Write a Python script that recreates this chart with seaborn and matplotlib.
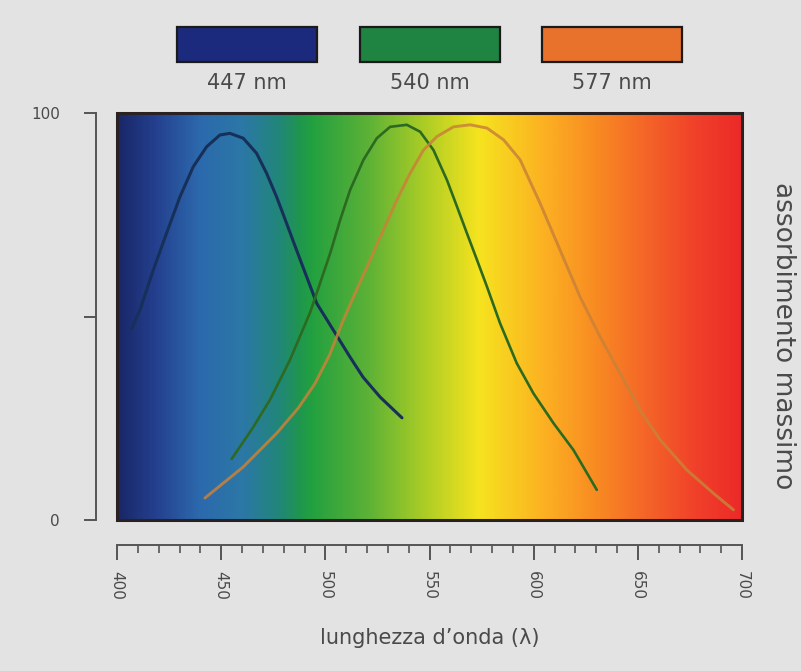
import numpy as np
import pandas as pd
import matplotlib
matplotlib.use("Agg")
import matplotlib.pyplot as plt
from matplotlib.colors import LinearSegmentedColormap
from matplotlib.patches import Rectangle
from matplotlib.ticker import MultipleLocator
import seaborn as sns

# ---------------- data ----------------
peak_labels = ["447 nm", "540 nm", "577 nm"]
series_colors = ["#1b2a7c", "#1f8442", "#e8722c"]
line_colors = ["#17305a", "#2c6a22", "#c98238"]

blue_wl = [407, 411, 417.4, 423.8, 430.2, 436.6, 443, 449.4, 454.2, 460.6, 467, 471.8,
           476.6, 481.4, 486.2, 491, 495.9, 501, 505.6, 511.9, 518.1, 526.3, 536.8]
blue_val = [47, 51.6, 61.4, 70.5, 79.4, 86.8, 91.7, 94.6, 95, 93.8, 90.1, 85.2,
            79.4, 72.9, 66.3, 59.8, 53.2, 49, 45.2, 40, 35.1, 30.2, 25.1]

green_wl = [455, 459, 465, 473.4, 483, 492.7, 502.3, 507.1, 511.9, 518.3, 524.7, 531.1,
            539.1, 545.5, 551.9, 558.4, 563.2, 568, 572.8, 577.6, 583.9, 591.9,
            599.9, 609.5, 619.1, 630.3]
green_val = [15, 18, 22.5, 29.5, 39.3, 51, 65.5, 73.7, 81.1, 88.5, 93.8, 96.6,
             97.1, 95.4, 90.9, 83.5, 77, 70.4, 63.9, 57.3, 48.3, 38.5,
             31.1, 23.8, 17.2, 7.4]

orange_wl = [442.2, 460.5, 476.8, 487, 495, 502, 508.6, 515, 521.5, 527.9, 534.3, 540.7,
             547.1, 553.5, 561.5, 569.5, 577.6, 585.6, 593.5, 603.1, 612.7, 622.3,
             631.9, 641.5, 651.1, 660.7, 673.5, 686.2, 695.9]
orange_val = [5.4, 13, 21.4, 27.5, 33.5, 40.5, 49.1, 56.5, 63.9, 71.3, 78.6, 85.2,
              90.9, 94.2, 96.6, 97.1, 96.3, 93.4, 88.5, 77.8, 66.3, 54.8,
              45, 36, 27, 19.7, 12.3, 6.6, 2.5]

x_ticks = [400, 450, 500, 550, 600, 650, 700]
y_ticks = [0, 50, 100]
y_ticklabels = ["0", "", "100"]

spectrum_stops = [0.0, 0.06, 0.13, 0.2, 0.26, 0.29, 0.31, 0.4, 0.5, 0.58,
                  0.68, 0.77, 0.85, 0.93, 1.0]
spectrum_colors = ["#1a2768", "#24408f", "#2c69ad", "#2b78a6", "#218777", "#1f9550",
                   "#22a040", "#5bb136", "#b3cf24", "#f6e31f", "#fcb322", "#f88a22",
                   "#f46428", "#f0402a", "#ec2a28"]

# ---------------- style ----------------
sns.set_style("white")
plt.rcParams["font.family"] = ["DejaVu Sans"]
bg = "#e3e3e3"
txt = "#4a4a4a"

fig = plt.figure(figsize=(8.01, 6.71), dpi=100, facecolor=bg)
ax = fig.add_axes([117 / 801, 1 - 520 / 671, 625 / 801, 407 / 671])
ax.set_facecolor(bg)

cmap = LinearSegmentedColormap.from_list("spec", list(zip(spectrum_stops, spectrum_colors)))
grad = np.linspace(0, 1, 600).reshape(1, -1)
ax.imshow(grad, cmap=cmap, aspect="auto", extent=[400, 700, 0, 100], zorder=0,
          interpolation="bilinear")

df = pd.concat([
    pd.DataFrame({"wl": blue_wl, "val": blue_val, "s": peak_labels[0]}),
    pd.DataFrame({"wl": green_wl, "val": green_val, "s": peak_labels[1]}),
    pd.DataFrame({"wl": orange_wl, "val": orange_val, "s": peak_labels[2]}),
])
sns.lineplot(data=df[df.s == peak_labels[0]], x="wl", y="val", color=line_colors[0],
             lw=2.2, ax=ax, sort=False, legend=False, zorder=3)
sns.lineplot(data=df[df.s == peak_labels[1]], x="wl", y="val", color=line_colors[1],
             lw=1.9, ax=ax, sort=False, legend=False, zorder=3)
sns.lineplot(data=df[df.s == peak_labels[2]], x="wl", y="val", color=line_colors[2],
             lw=2.1, alpha=0.85, ax=ax, sort=False, legend=False, zorder=4)

ax.set_xlim(400, 700)
ax.set_ylim(0, 100)

ax.add_patch(Rectangle((0, 0), 1, 1, transform=ax.transAxes, fill=False,
                       ec="#2a2222", lw=2.2, zorder=5, clip_on=False))

for s in ["top", "right"]:
    ax.spines[s].set_visible(False)
ax.spines["left"].set_position(("outward", 15))
ax.spines["bottom"].set_position(("outward", 18))
for s in ["left", "bottom"]:
    ax.spines[s].set_color("#555555")
    ax.spines[s].set_linewidth(1.4)

ax.set_xticks(x_ticks)
ax.set_xticklabels([str(v) for v in x_ticks], rotation=-90)
ax.xaxis.set_minor_locator(MultipleLocator(10))
ax.set_yticks(y_ticks)
ax.set_yticklabels(y_ticklabels)
ax.tick_params(which="both", bottom=True, left=True, top=False, right=False)
ax.tick_params(axis="x", which="major", direction="out", length=11, width=1.4,
               color="#555555", labelsize=11, labelcolor=txt, pad=8)
ax.tick_params(axis="x", which="minor", direction="out", length=6, width=1.2,
               color="#555555")
ax.tick_params(axis="y", which="major", direction="out", length=9, width=1.4,
               color="#555555", labelsize=11, labelcolor=txt, pad=17)
ax.set_xlabel("lunghezza d’onda (λ)", fontsize=15, color=txt, labelpad=20)
ax.set_ylabel("")
ax.grid(False)

fig.text(0.978, 1 - 336 / 671, "assorbimento massimo", rotation=-90, ha="center",
         va="center", fontsize=19, color=txt)

# legend boxes at the top
box_x = [177, 360, 542]
for bx, c, lab in zip(box_x, series_colors, peak_labels):
    fig.add_artist(Rectangle((bx / 801, 1 - 62 / 671), 140 / 801, 35 / 671,
                             transform=fig.transFigure, fc=c, ec="#1a1a1a", lw=1.6))
    fig.text((bx + 70) / 801, 1 - 83 / 671, lab, ha="center", va="center",
             fontsize=15, color=txt)

fig.savefig("out.png", dpi=100, facecolor=bg)
